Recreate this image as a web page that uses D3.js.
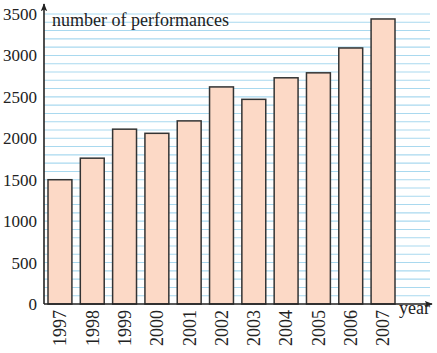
<!DOCTYPE html>
<html>
<head>
<meta charset="utf-8">
<script src="https://cdn.jsdelivr.net/npm/d3@7"></script>
<style>
  body { margin: 0; background: #fff; }
  svg text { font-family: "Liberation Serif", "Times New Roman", serif; fill: #222; }
</style>
</head>
<body>
<div id="chart"></div>
<script>
var years = ["1997", "1998", "1999", "2000", "2001", "2002", "2003", "2004", "2005", "2006", "2007"];
var performances = [1500, 1760, 2110, 2060, 2210, 2620, 2470, 2730, 2790, 3090, 3440];
var yTicks = [0, 500, 1000, 1500, 2000, 2500, 3000, 3500];
var yLabel = "number of performances";
var xLabel = "year";

var width = 437, height = 353;
var axisX = 44, axisY = 304, axisEnd = 432;
var serif = "\"Liberation Serif\", \"Times New Roman\", serif";

var svg = d3.select("#chart")
    .append("svg")
    .attr("width", width)
    .attr("height", height);

var y = d3.scaleLinear()
    .domain([0, 3500])
    .range([axisY, 14]);

var x = d3.scaleBand()
    .domain(years)
    .range([48, 395])
    .paddingInner(0.26)
    .paddingOuter(0)
    .align(0);

// light blue ruled lines every 100
var gridVals = d3.range(100, 3501, 100);
svg.append("g")
    .selectAll("line")
    .data(gridVals)
    .enter()
    .append("line")
    .attr("x1", axisX)
    .attr("x2", axisEnd - 2)
    .attr("y1", function(d) { return y(d); })
    .attr("y2", function(d) { return y(d); })
    .style("stroke", "#a9d9ef")
    .style("stroke-width", 1.1);

// bars
svg.append("g")
    .selectAll("rect")
    .data(performances)
    .enter()
    .append("rect")
    .attr("x", function(d, i) { return x(years[i]); })
    .attr("y", function(d) { return y(d); })
    .attr("width", x.bandwidth())
    .attr("height", function(d) { return axisY - y(d); })
    .style("fill", "#fcd9c6")
    .style("stroke", "#333")
    .style("stroke-width", 1.5);

// arrow heads
var defs = svg.append("defs");
defs.append("marker")
    .attr("id", "arrow")
    .attr("viewBox", "0 0 10 10")
    .attr("refX", 9)
    .attr("refY", 5)
    .attr("markerWidth", 8)
    .attr("markerHeight", 8)
    .attr("markerUnits", "userSpaceOnUse")
    .attr("orient", "auto")
    .append("path")
    .attr("d", "M0,1 L10,5 L0,9 L2,5 Z")
    .style("fill", "#222");

// axes lines
svg.append("line")
    .attr("x1", axisX).attr("x2", axisEnd)
    .attr("y1", axisY).attr("y2", axisY)
    .style("stroke", "#222").style("stroke-width", 1.6)
    .attr("marker-end", "url(#arrow)");

svg.append("line")
    .attr("x1", axisX).attr("x2", axisX)
    .attr("y1", axisY).attr("y2", 4)
    .style("stroke", "#222").style("stroke-width", 1.6)
    .attr("marker-end", "url(#arrow)");

// y tick labels
var yAxis = d3.axisLeft(y)
    .tickValues(yTicks)
    .tickFormat(d3.format("d"))
    .tickSize(0)
    .tickPadding(6);

var yg = svg.append("g")
    .attr("transform", "translate(" + (axisX - 1) + ",0)")
    .call(yAxis)
    .attr("font-family", serif);
yg.select(".domain").remove();
yg.selectAll("text")
    .style("font-family", serif)
    .style("font-size", "17px")
    .style("fill", "#222");

// x tick labels, rotated
var xAxis = d3.axisBottom(x).tickSize(0).tickPadding(0);
var xg = svg.append("g")
    .attr("transform", "translate(0," + axisY + ")")
    .call(xAxis)
    .attr("font-family", serif);
xg.select(".domain").remove();
xg.selectAll("text")
    .attr("transform", "rotate(-90)")
    .attr("x", -6)
    .attr("y", 0)
    .attr("dy", "0.35em")
    .style("text-anchor", "end")
    .style("font-family", serif)
    .style("font-size", "18px")
    .style("fill", "#222");

// axis titles
svg.append("text")
    .attr("x", 52)
    .attr("y", 26)
    .style("font-family", serif)
    .style("font-size", "18px")
    .text(yLabel);

svg.append("text")
    .attr("x", 399)
    .attr("y", 314)
    .style("font-family", serif)
    .style("font-size", "18px")
    .text(xLabel);
</script>
</body>
</html>
